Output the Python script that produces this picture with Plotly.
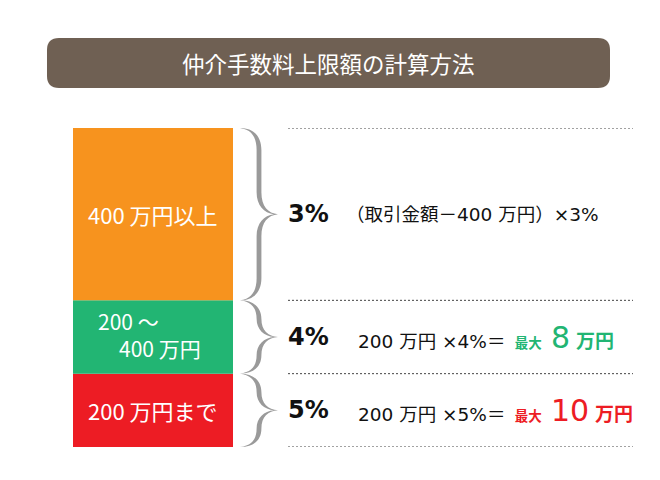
import plotly.graph_objects as go

# tiers listed bottom to top (price brackets in 万円, top one is open ended)
tier_labels = ["200 万円まで", "200 ～<br>\u3000400 万円", "400 万円以上"]
tier_span = [200, 200, 470]
tier_colors = ["#ed1c24", "#22b573", "#f7931e"]
rates = ["5%", "4%", "3%"]
formula_base = ["200 万円 ×5%＝", "200 万円 ×4%＝", "（取引金額－400 万円）×3%"]
max_amount = ["10", "8", None]
title = "仲介手数料上限額の計算方法"

W, H = 660, 480
OFF = 8  # page margin the figure sits in


def px_x(px):
    return (px - OFF) / W


def px_y(py):
    return 1 - (py - OFF) / H


y_dom = [px_y(447), px_y(128)]
x_dom = [px_x(73), px_x(233)]
total = sum(tier_span)
bases = [sum(tier_span[:i]) for i in range(len(tier_span))]
mids = [b + s / 2 for b, s in zip(bases, tier_span)]


def y_px(v):
    # data value -> pixel row, following the y axis domain
    frac = y_dom[0] + (y_dom[1] - y_dom[0]) * v / total
    return H * (1 - frac) + OFF


def to_path(pts):
    out = ""
    for cmd, p in pts:
        out += cmd + " ".join(f"{px_x(a):.5f},{px_y(b):.5f}" for a, b in p) + " "
    return out + "Z"


def brace_path(top, bot):
    # curly brace drawn as a filled outline
    x0, xs, xt = 240, 259, 278
    m = (top + bot) / 2
    r = min(22, (bot - top) / 4)
    w = 2.4
    return to_path([
        ("M", [(x0, top)]),
        ("C", [(x0 + 14, top), (xs + w, top + r * 0.4), (xs + w, top + r)]),
        ("L", [(xs + w, m - r)]),
        ("C", [(xs + w, m - r * 0.35), (xt - 10, m - 1), (xt, m)]),
        ("C", [(xt - 10, m + 1), (xs + w, m + r * 0.35), (xs + w, m + r)]),
        ("L", [(xs + w, bot - r)]),
        ("C", [(xs + w, bot - r * 0.4), (x0 + 14, bot), (x0, bot)]),
        ("C", [(x0 + 12, bot - 1.5), (xs - w, bot - r * 0.45), (xs - w, bot - r)]),
        ("L", [(xs - w, m + r)]),
        ("C", [(xs - w, m + r * 0.4), (xt - 14, m + 1), (xt - 4, m)]),
        ("C", [(xt - 14, m - 1), (xs - w, m - r * 0.4), (xs - w, m - r)]),
        ("L", [(xs - w, top + r)]),
        ("C", [(xs - w, top + r * 0.45), (x0 + 12, top + 1.5), (x0, top)]),
    ])


def rounded_rect(x0, y0, x1, y1, r):
    return to_path([
        ("M", [(x0 + r, y0)]), ("L", [(x1 - r, y0)]), ("Q", [(x1, y0), (x1, y0 + r)]),
        ("L", [(x1, y1 - r)]), ("Q", [(x1, y1), (x1 - r, y1)]), ("L", [(x0 + r, y1)]),
        ("Q", [(x0, y1), (x0, y1 - r)]), ("L", [(x0, y0 + r)]), ("Q", [(x0, y0), (x0 + r, y0)]),
    ])


fig = go.Figure()
fig.add_trace(
    go.Bar(
        x=[0] * len(tier_span),
        y=tier_span,
        base=bases,
        width=1,
        marker=dict(color=tier_colors, line=dict(width=0)),
        hoverinfo="skip",
        showlegend=False,
    )
)

shapes = [
    dict(type="path", xref="paper", yref="paper", path=rounded_rect(47, 38, 610, 88, 12),
         fillcolor="#6f6053", line=dict(width=0)),
]
for b in bases + [total]:
    shapes.append(dict(type="line", xref="paper", yref="y", x0=px_x(288), x1=px_x(633), y0=b, y1=b,
                       line=dict(color="#444", width=1, dash="2px,2px")))
for b, s in zip(bases, tier_span):
    shapes.append(dict(type="path", xref="paper", yref="paper",
                       path=brace_path(y_px(b + s), y_px(b)),
                       fillcolor="#9a9a9a", line=dict(width=0)))

cjk = "Noto Sans CJK JP"
ann = [
    dict(text=title, x=px_x(328), y=px_y(63), xref="paper", yref="paper",
         xanchor="center", yanchor="middle", showarrow=False,
         font=dict(family=cjk, size=22.5, color="white")),
]
for i, m in enumerate(mids):
    lab = tier_labels[i]
    multi = "<br>" in lab
    ann.append(dict(text=lab, x=0, y=m, xref="x", yref="y", showarrow=False,
                    align="left" if multi else "center",
                    xshift=-4 if multi else 0, yshift=3 if multi else 0,
                    font=dict(family=cjk, size=21 if multi else 22, color="white")))
    ann.append(dict(text=f"<b>{rates[i]}</b>", x=px_x(286), y=m, xref="paper", yref="y",
                    xanchor="left", yanchor="middle", showarrow=False,
                    font=dict(family="DejaVu Sans", size=24, color="#111")))
    txt = formula_base[i]
    xpos = 344
    if max_amount[i] is not None:
        c = tier_colors[i]
        txt += (f"\u2002<span style='color:{c}'><b><span style='font-size:13.5px'>最大</span></b>"
                f"\u2002<span style='font-size:30px'>{max_amount[i]}</span> "
                f"<b><span style='font-size:19px'>万円</span></b></span>")
        xpos = 356
    ann.append(dict(text=txt, x=px_x(xpos), y=m, xref="paper", yref="y", xanchor="left",
                    yanchor="middle", showarrow=False,
                    font=dict(family="DejaVu Sans, " + cjk, size=18.5, color="#111")))

fig.update_layout(
    width=W, height=H,
    margin=dict(l=0, r=0, t=0, b=0),
    paper_bgcolor="white", plot_bgcolor="white",
    barmode="overlay",
    xaxis=dict(domain=x_dom, range=[-0.5, 0.5], visible=False, fixedrange=True),
    yaxis=dict(domain=y_dom, range=[0, total], visible=False, fixedrange=True),
    shapes=shapes,
    annotations=ann,
)
fig.write_html("out.html", config={"displayModeBar": False})
